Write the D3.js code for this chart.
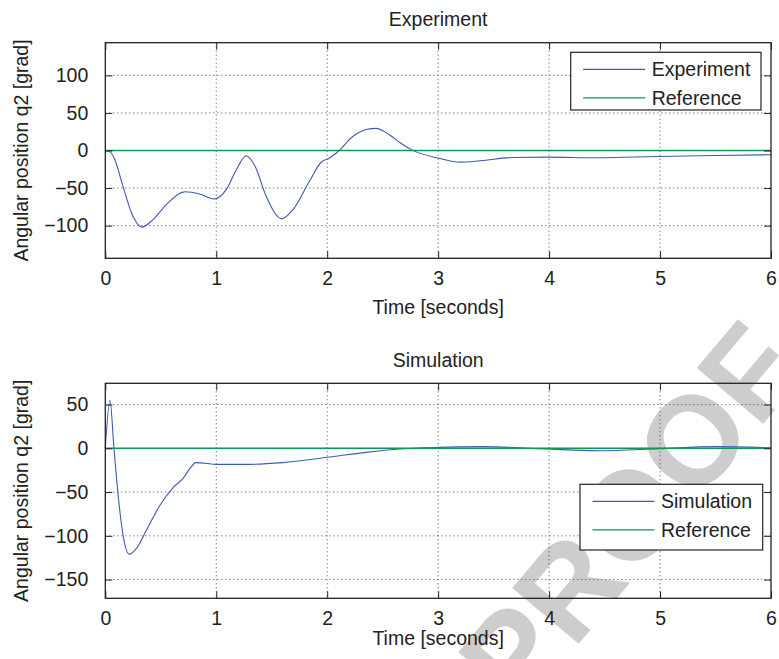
<!DOCTYPE html>
<html>
<head>
<meta charset="utf-8">
<script src="https://cdn.jsdelivr.net/npm/d3@7"></script>
<style>
  html, body { margin: 0; padding: 0; background: #fff; }
  svg { display: block; font-family: "Liberation Sans", Arial, Helvetica, sans-serif; }
</style>
</head>
<body>
<svg id="chart" width="779" height="659"></svg>
<script>
// ---- data ----
const tempoTicks = [0, 1, 2, 3, 4, 5, 6];

// Experiment panel
const expTempo = [0, 0.04, 0.08, 0.16, 0.25, 0.33, 0.43, 0.55, 0.72, 0.85, 0.98, 1.09, 1.18, 1.27, 1.35, 1.45, 1.59, 1.69, 1.84, 1.95, 2.01, 2.10, 2.23, 2.35, 2.44, 2.56, 2.66, 2.78, 3.0, 3.2, 3.38, 3.68, 3.98, 4.43, 4.97, 5.48, 6.0];
const expValor = [0, -1.5, -10, -48, -88, -102, -92, -72, -55, -58, -64.5, -52, -26, -7, -21, -61, -91, -79, -41, -15, -11, -1, 18.6, 28, 29.5, 21, 10, -0.5, -10, -15.5, -13.7, -9.3, -8.8, -9.7, -8, -6.6, -5.7];
const expYTicks = [-100, -50, 0, 50, 100];

// Simulation panel
const simTempo = [0, 0.042, 0.078, 0.117, 0.162, 0.216, 0.283, 0.373, 0.493, 0.613, 0.703, 0.763, 0.817, 0.9, 1.0, 1.3, 1.6, 2.0, 2.35, 2.65, 3.0, 3.4, 3.97, 4.45, 4.99, 5.5, 6.0];
const simValor = [0, 55, 0, -55, -101, -121, -114, -93, -65, -44.6, -34, -23, -16.4, -17, -18.3, -18.3, -16.4, -10.3, -4.6, -0.8, 1.1, 1.9, -0.8, -2.7, -0.4, 1.9, 0.7];
const simYTicks = [-150, -100, -50, 0, 50];

// Reference (setpoint) for both panels
const refTempo = [0, 6];
const refValor = [0, 0];

const titulos = ["Experiment", "Simulation"];
const legendas = [["Experiment", "Reference"], ["Simulation", "Reference"]];

// ---- layout ----
const COR_AZUL  = "#3d5bb0";
const COR_VERDE = "#0a9a55";
const FONTE = 19.5;

const $svg = d3.select("#chart");

// watermark behind everything
$svg.append("text")
    .attr("transform", "translate(630,515) rotate(-50)")
    .attr("text-anchor", "middle")
    .attr("dominant-baseline", "central")
    .attr("font-size", 126)
    .attr("font-weight", "bold")
    .attr("fill", "#cdcdcd")
    .text("PROOF");

const paineis = [
    { top: 42.7, bottom: 258.3, dom: [-143.5, 143.5], yTicks: expYTicks,
      t: expTempo, v: expValor, titulo: titulos[0], leg: legendas[0],
      legBox: [570.7, 52.3, 190.3, 57.7], titleY: 26, labelY: 314 },
    { top: 383.3, bottom: 598.3, dom: [-171.4, 74.3], yTicks: simYTicks,
      t: simTempo, v: simValor, titulo: titulos[1], leg: legendas[1],
      legBox: [580, 484.3, 182.7, 65.7], titleY: 366.5, labelY: 645 }
];

const X0 = 105.3, X1 = 771;

paineis.forEach(function(p) {
    const x = d3.scaleLinear().domain([0, 6]).range([X0, X1]);
    const y = d3.scaleLinear().domain(p.dom).range([p.bottom, p.top]);
    const g = $svg.append("g");

    // grid
    g.selectAll(".gx").data(tempoTicks.filter(d => d > 0 && d < 6)).join("line")
        .attr("x1", d => x(d)).attr("x2", d => x(d))
        .attr("y1", p.top).attr("y2", p.bottom)
        .attr("stroke", "#333").attr("stroke-width", 0.9)
        .attr("stroke-dasharray", "1,3");
    g.selectAll(".gy").data(p.yTicks).join("line")
        .attr("x1", X0).attr("x2", X1)
        .attr("y1", d => y(d)).attr("y2", d => y(d))
        .attr("stroke", "#333").attr("stroke-width", 0.9)
        .attr("stroke-dasharray", "1,3");

    const line = d3.line()
        .x(d => x(d[0]))
        .y(d => y(d[1]))
        .curve(d3.curveMonotoneX);

    g.append("path")
        .datum(d3.zip(p.t, p.v))
        .attr("d", line)
        .attr("fill", "none")
        .attr("stroke", COR_AZUL)
        .attr("stroke-width", 1.1);

    // reference line
    g.append("path")
        .datum(d3.zip(refTempo, refValor))
        .attr("d", d3.line().x(d => x(d[0])).y(d => y(d[1])))
        .attr("fill", "none")
        .attr("stroke", COR_VERDE)
        .attr("stroke-width", 1.6);

    // axes, ticks inside on all four sides
    const tk = 7;
    g.append("g").attr("transform", `translate(0,${p.bottom})`)
        .call(d3.axisBottom(x).tickValues(tempoTicks).tickFormat(d3.format("d"))
              .tickSizeInner(-tk).tickSizeOuter(0).tickPadding(13))
        .call(a => a.select(".domain").remove());
    g.append("g").attr("transform", `translate(0,${p.top})`)
        .call(d3.axisTop(x).tickValues(tempoTicks).tickSizeInner(-tk).tickSizeOuter(0).tickFormat(""))
        .call(a => a.select(".domain").remove());
    g.append("g").attr("transform", `translate(${X0},0)`)
        .call(d3.axisLeft(y).tickValues(p.yTicks).tickSizeInner(-tk).tickSizeOuter(0).tickPadding(17)
              .tickFormat(d => d < 0 ? "\u2212" + Math.abs(d) : d))
        .call(a => a.select(".domain").remove());
    g.append("g").attr("transform", `translate(${X1},0)`)
        .call(d3.axisRight(y).tickValues(p.yTicks).tickSizeInner(-tk).tickSizeOuter(0).tickFormat(""))
        .call(a => a.select(".domain").remove());

    g.selectAll(".tick line").attr("stroke", "#222").attr("stroke-width", 1);
    g.selectAll(".tick text")
        .attr("font-family", "Liberation Sans, Arial, sans-serif")
        .attr("font-size", FONTE)
        .attr("fill", "#222");

    g.append("rect")
        .attr("x", X0).attr("y", p.top)
        .attr("width", X1 - X0).attr("height", p.bottom - p.top)
        .attr("fill", "none").attr("stroke", "#222").attr("stroke-width", 1.3);

    // texts
    g.append("text")
        .attr("x", (X0 + X1) / 2).attr("y", p.titleY)
        .attr("text-anchor", "middle").attr("font-size", FONTE).attr("fill", "#222")
        .text(p.titulo);
    g.append("text")
        .attr("x", (X0 + X1) / 2).attr("y", p.labelY)
        .attr("text-anchor", "middle").attr("font-size", FONTE).attr("fill", "#222")
        .text("Time [seconds]");
    g.append("text")
        .attr("transform", `translate(27.5,${(p.top + p.bottom) / 2}) rotate(-90)`)
        .attr("text-anchor", "middle").attr("font-size", FONTE).attr("fill", "#222")
        .text("Angular position q2 [grad]");

    // legend
    const [lx, ly, lw, lh] = p.legBox;
    const leg = g.append("g");
    leg.append("rect")
        .attr("x", lx).attr("y", ly).attr("width", lw).attr("height", lh)
        .attr("fill", "#fff").attr("stroke", "#222").attr("stroke-width", 1.2);
    const cores = [COR_AZUL, COR_VERDE];
    p.leg.forEach(function(nome, i) {
        const ry = ly + 17 + i * 28.5;
        leg.append("line")
            .attr("x1", lx + 12.5).attr("x2", lx + 74.5)
            .attr("y1", ry).attr("y2", ry)
            .attr("stroke", cores[i]).attr("stroke-width", 1.3);
        leg.append("text")
            .attr("x", lx + 81).attr("y", ry + 7)
            .attr("font-size", FONTE).attr("fill", "#222")
            .text(nome);
    });
});
</script>
</body>
</html>
